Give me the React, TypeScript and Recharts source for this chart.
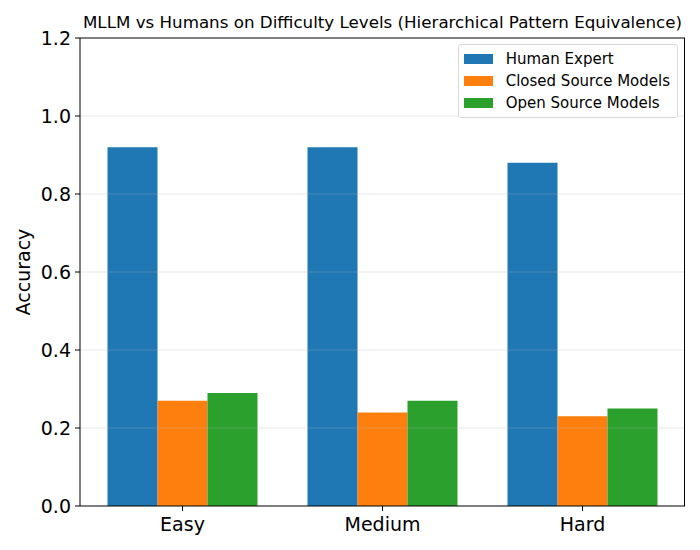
import React from "react";
import { BarChart, Bar, XAxis, YAxis, ReferenceLine } from "recharts";

const levels = ["Easy", "Medium", "Hard"];
const humanExpert = [0.92, 0.92, 0.88];
const closedSource = [0.27, 0.24, 0.23];
const openSource = [0.29, 0.27, 0.25];
const yTicks = [0, 0.2, 0.4, 0.6, 0.8, 1.0, 1.2];

const SERIES = [
  { key: "human", name: "Human Expert", color: "#1f77b4" },
  { key: "closed", name: "Closed Source Models", color: "#ff7f0e" },
  { key: "open", name: "Open Source Models", color: "#2ca02c" },
];

const data = levels.map((level, i) => ({
  level,
  human: humanExpert[i],
  closed: closedSource[i],
  open: openSource[i],
}));

const FONT = "DejaVu Sans, sans-serif";

function LegendBox() {
  return (
    <div
      style={{
        position: "absolute",
        right: 22,
        top: 44,
        border: "1px solid #d9d9d9",
        borderRadius: 3,
        background: "rgba(255,255,255,0.8)",
        padding: "3px 7px 3px 5px",
        fontFamily: FONT,
        fontSize: 15,
        color: "#000",
      }}
    >
      {SERIES.map((s) => (
        <div
          key={s.key}
          style={{ display: "flex", alignItems: "center", height: 22 }}
        >
          <span
            style={{
              display: "inline-block",
              width: 29,
              height: 10,
              background: s.color,
              marginRight: 13,
            }}
          />
          <span>{s.name}</span>
        </div>
      ))}
    </div>
  );
}

export default function App() {
  return (
    <div
      style={{
        position: "absolute",
        left: 0,
        top: 0,
        width: 700,
        height: 550,
        background: "#fff",
        fontFamily: FONT,
      }}
    >
      <div
        style={{
          position: "absolute",
          left: 60,
          width: 645,
          top: 12,
          textAlign: "center",
          fontSize: 16.7,
          color: "#000",
        }}
      >
        MLLM vs Humans on Difficulty Levels (Hierarchical Pattern Equivalence)
      </div>
      <BarChart
        width={700}
        height={550}
        data={data}
        margin={{ top: 38, right: 15, bottom: 0, left: 0 }}
        barGap={0}
        barCategoryGap={25}
      >
        <XAxis
          dataKey="level"
          padding={{ left: 2.5, right: 2.5 }}
          height={44}
          tickSize={5}
          stroke="#000"
          tick={{ fill: "#000", fontSize: 19, fontFamily: FONT }}
          tickMargin={7}
        />
        <YAxis
          width={80}
          domain={[0, 1.2]}
          ticks={yTicks}
          tickFormatter={(v: number) => v.toFixed(1)}
          tickSize={5}
          stroke="#000"
          tick={{ fill: "#000", fontSize: 19, fontFamily: FONT }}
          tickMargin={4}
          label={{
            value: "Accuracy",
            angle: -90,
            position: "insideLeft",
            offset: 23,
            style: {
              fontSize: 19,
              fill: "#000",
              fontFamily: FONT,
              textAnchor: "middle",
            },
          }}
        />
        {SERIES.map((s) => (
          <Bar
            key={s.key}
            dataKey={s.key}
            name={s.name}
            fill={s.color}
            isAnimationActive={false}
          />
        ))}
        {yTicks.slice(1, -1).map((t) => (
          <ReferenceLine
            key={t}
            y={t}
            stroke="#b0b0b0"
            strokeOpacity={0.3}
            strokeWidth={1}
          />
        ))}
        <ReferenceLine y={1.2} stroke="#000" strokeWidth={1} />
      </BarChart>
      <div
        style={{
          position: "absolute",
          left: 684,
          top: 38,
          width: 1,
          height: 468,
          background: "#000",
        }}
      />
      <LegendBox />
    </div>
  );
}
